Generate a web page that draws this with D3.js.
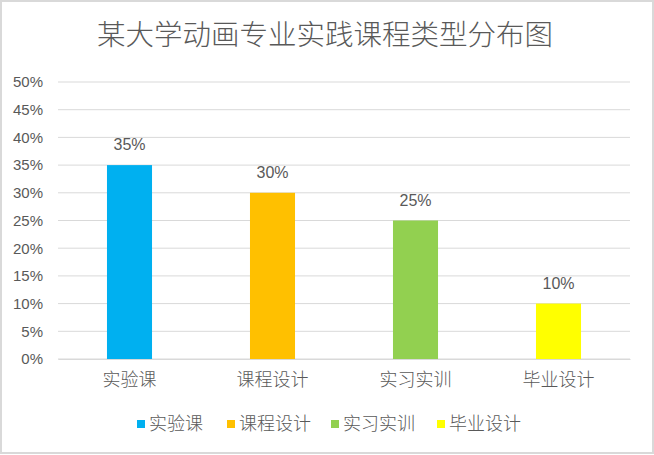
<!DOCTYPE html>
<html>
<head>
<meta charset="utf-8">
<script src="https://cdn.jsdelivr.net/npm/d3@7"></script>
<style>
  body { margin: 0; background: #fff; }
  svg { display: block; }
  text { font-family: "Noto Sans CJK SC", "Liberation Sans", sans-serif; fill: #595959; font-weight: 300; }
</style>
</head>
<body>
<svg id="chart" width="654" height="455"></svg>
<script>
// 数据
const categories = ["实验课", "课程设计", "实习实训", "毕业设计"];
const values = [0.35, 0.30, 0.25, 0.10];
const colors = ["#00B0F0", "#FFC000", "#92D050", "#FFFF00"];
const yTicks = [0, 0.05, 0.10, 0.15, 0.20, 0.25, 0.30, 0.35, 0.40, 0.45, 0.50];
const title = "某大学动画专业实践课程类型分布图";

const svg = d3.select("#chart");
const margin = {top: 82, right: 24, bottom: 96, left: 58};
const width = 654 - margin.left - margin.right;
const height = 455 - margin.top - margin.bottom;

// 外框
svg.append("rect")
    .attr("x", 1).attr("y", 1)
    .attr("width", 652).attr("height", 452)
    .attr("fill", "#fff")
    .attr("stroke", "#d9d9d9")
    .attr("stroke-width", 2);

svg.append("text")
    .attr("x", 325)
    .attr("y", 45)
    .attr("text-anchor", "middle")
    .style("font-size", "28.5px")
    .text(title);

const chart = svg.append("g")
    .attr("transform", `translate(${margin.left},${margin.top})`);

const xScale = d3.scaleBand()
    .domain(categories)
    .range([0, width])
    .paddingInner(0.685)
    .paddingOuter(0.3425);

const yScale = d3.scaleLinear()
    .domain([0, 0.5])
    .range([height, 0]);

// 网格线
chart.append("g")
    .selectAll("line")
    .data(yTicks)
    .join("line")
    .attr("x1", 0)
    .attr("x2", width)
    .attr("y1", d => yScale(d))
    .attr("y2", d => yScale(d))
    .attr("stroke", "#d9d9d9")
    .attr("stroke-width", 1);

// y轴
const yAxis = chart.append("g")
    .call(d3.axisLeft(yScale).tickValues(yTicks).tickFormat(d3.format(".0%")).tickSize(0).tickPadding(15));
yAxis.select(".domain").remove();
yAxis.selectAll("text")
    .style("font-family", "'Liberation Sans Narrow', 'Liberation Sans', sans-serif")
    .style("font-size", "15px")
    .attr("fill", "#595959");

// 柱子
chart.selectAll(".bar")
    .data(values)
    .join("rect")
    .attr("class", "bar")
    .attr("x", (d, i) => xScale(categories[i]))
    .attr("y", d => yScale(d))
    .attr("width", xScale.bandwidth())
    .attr("height", d => height - yScale(d))
    .attr("fill", (d, i) => colors[i]);

// 数据标签
chart.selectAll(".label")
    .data(values)
    .join("text")
    .attr("class", "label")
    .attr("x", (d, i) => xScale(categories[i]) + xScale.bandwidth() / 2)
    .attr("y", d => yScale(d) - 15)
    .attr("text-anchor", "middle")
    .style("font-family", "'Liberation Sans Narrow', 'Liberation Sans', sans-serif")
    .style("font-size", "16px")
    .text(d => d3.format(".0%")(d));

// x轴
const xAxis = chart.append("g")
    .attr("transform", `translate(0,${height})`)
    .call(d3.axisBottom(xScale).tickSize(0).tickPadding(14));
xAxis.select(".domain").attr("stroke", "#d9d9d9");
xAxis.selectAll("text")
    .style("font-size", "18px")
    .attr("fill", "#595959");

// 图例
const legendX = [137, 227, 331, 437];
const legend = svg.append("g")
    .selectAll("g")
    .data(categories)
    .join("g")
    .attr("transform", (d, i) => `translate(${legendX[i]},424)`);
legend.append("rect")
    .attr("x", 0).attr("y", -4)
    .attr("width", 8).attr("height", 8)
    .attr("fill", (d, i) => colors[i]);
legend.append("text")
    .attr("x", 12)
    .attr("y", 0)
    .attr("dy", "0.35em")
    .style("font-size", "18px")
    .text(d => d);
</script>
</body>
</html>
